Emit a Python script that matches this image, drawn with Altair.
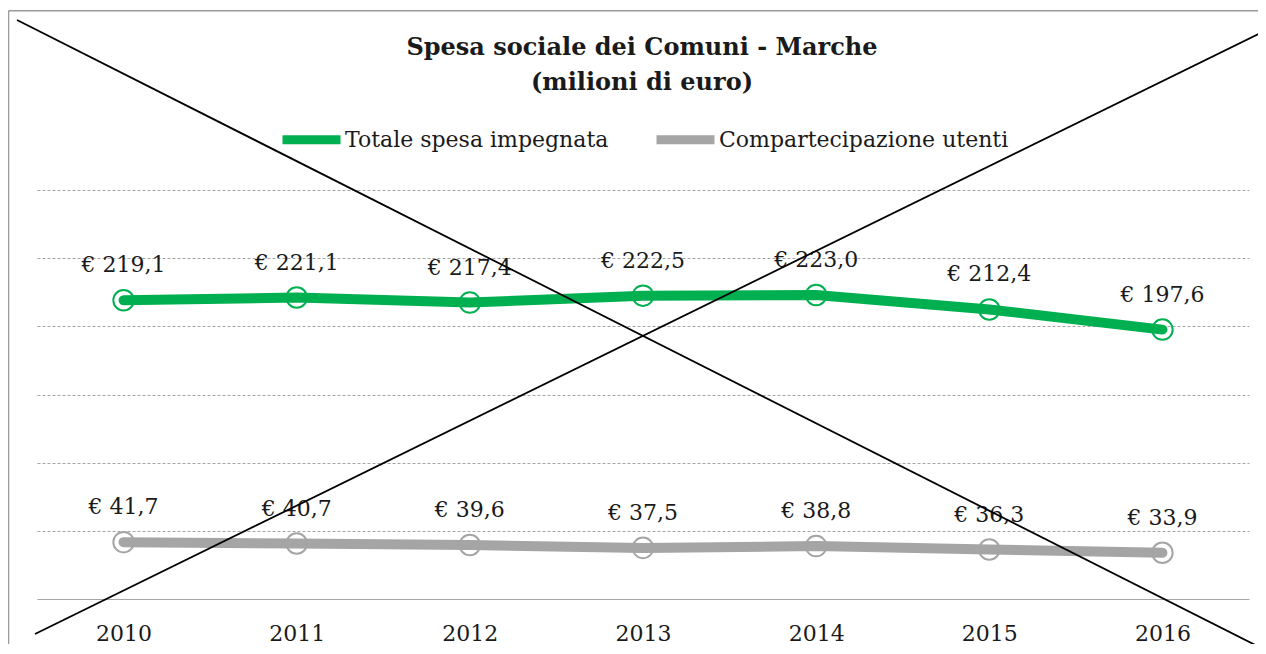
import altair as alt
import pandas as pd

years = ["2010", "2011", "2012", "2013", "2014", "2015", "2016"]
totale = [219.1, 221.1, 217.4, 222.5, 223.0, 212.4, 197.6]
compartecipazione = [41.7, 40.7, 39.6, 37.5, 38.8, 36.3, 33.9]
series_names = ["Totale spesa impegnata", "Compartecipazione utenti"]
series_colors = ["#00B050", "#A5A5A5"]
grid_values = [50, 100, 150, 200, 250, 300]
title_lines = ["Spesa sociale dei Comuni - Marche", "(milioni di euro)"]

rows = []
for name, vals in zip(series_names, [totale, compartecipazione]):
    for y, v in zip(years, vals):
        rows.append({"anno": y, "valore": v, "serie": name,
                     "etichetta": "€ " + f"{v:.1f}".replace(".", ",")})
df = pd.DataFrame(rows)

FONT = "DejaVu Serif"
TXT = "#1a1a1a"

color = alt.Color(
    "serie:N",
    scale=alt.Scale(domain=series_names, range=series_colors),
    sort=series_names,
    legend=alt.Legend(
        title=None, orient="none", direction="horizontal",
        legendX=241, legendY=-84,
        symbolType="stroke", symbolStrokeWidth=9, symbolSize=3364,
        labelFont=FONT, labelFontSize=22, labelColor=TXT, labelLimit=0,
        labelOffset=0, columnPadding=29,
    ),
)

base = alt.Chart(df).encode(
    x=alt.X("anno:O", sort=years,
            scale=alt.Scale(type="point", padding=0.5),
            axis=alt.Axis(title=None, labelAngle=0, ticks=False, tickSize=0,
                          domainColor="#A6A6A6", domainWidth=1,
                          labelFont=FONT, labelFontSize=22, labelColor=TXT,
                          labelBaseline="middle", labelPadding=34, grid=False)),
    y=alt.Y("valore:Q", scale=alt.Scale(domain=[0, 300], nice=False),
            axis=alt.Axis(title=None, labels=False, ticks=False, domain=False,
                          values=grid_values, gridDash=[3, 2],
                          gridColor="#A6A6A6", gridWidth=1)),
)

one = pd.DataFrame({"k": [0]})
frame_left = alt.Chart(one).mark_rule(color="#999999", strokeWidth=1.5).encode(
    x=alt.value(-28.5), y=alt.value(-179.3), y2=alt.value(800))
frame_top = alt.Chart(one).mark_rule(color="#999999", strokeWidth=1.5).encode(
    x=alt.value(-28.5), x2=alt.value(1400), y=alt.value(-179.3))

title1 = alt.Chart(one).mark_text(
    text=title_lines[0], font=FONT, fontSize=24, fontWeight="bold", color=TXT,
    align="center", baseline="middle").encode(x=alt.value(605), y=alt.value(-142))
title2 = alt.Chart(one).mark_text(
    text=title_lines[1], font=FONT, fontSize=24, fontWeight="bold", color=TXT,
    align="center", baseline="middle").encode(x=alt.value(605), y=alt.value(-107))

line = base.mark_line(strokeWidth=10, strokeCap="round").encode(color=color)
points = base.mark_point(filled=False, size=420, strokeWidth=2, opacity=1).encode(color=color)
labels = base.mark_text(dy=-35, font=FONT, fontSize=22, baseline="middle").encode(
    text="etichetta:N", color=alt.value(TXT))

cross1 = alt.Chart(one).mark_rule(color="black", strokeWidth=1.8).encode(
    x=alt.value(-20), y=alt.value(-170), x2=alt.value(1250), y2=alt.value(471))
cross2 = alt.Chart(one).mark_rule(color="black", strokeWidth=1.8).encode(
    x=alt.value(-2), y=alt.value(444), x2=alt.value(1250), y2=alt.value(-170))

chart = alt.layer(frame_left, frame_top, title1, title2, line, points, labels,
                  cross1, cross2).properties(
    width=1212, height=409,
    background="white",
    autosize=alt.AutoSizeParams(type="none"),
    padding={"left": 29, "top": 182, "right": 9, "bottom": 45},
).configure_view(strokeWidth=0, stroke=None)

chart.save("out.html", embed_options={"renderer": "svg", "actions": False})
